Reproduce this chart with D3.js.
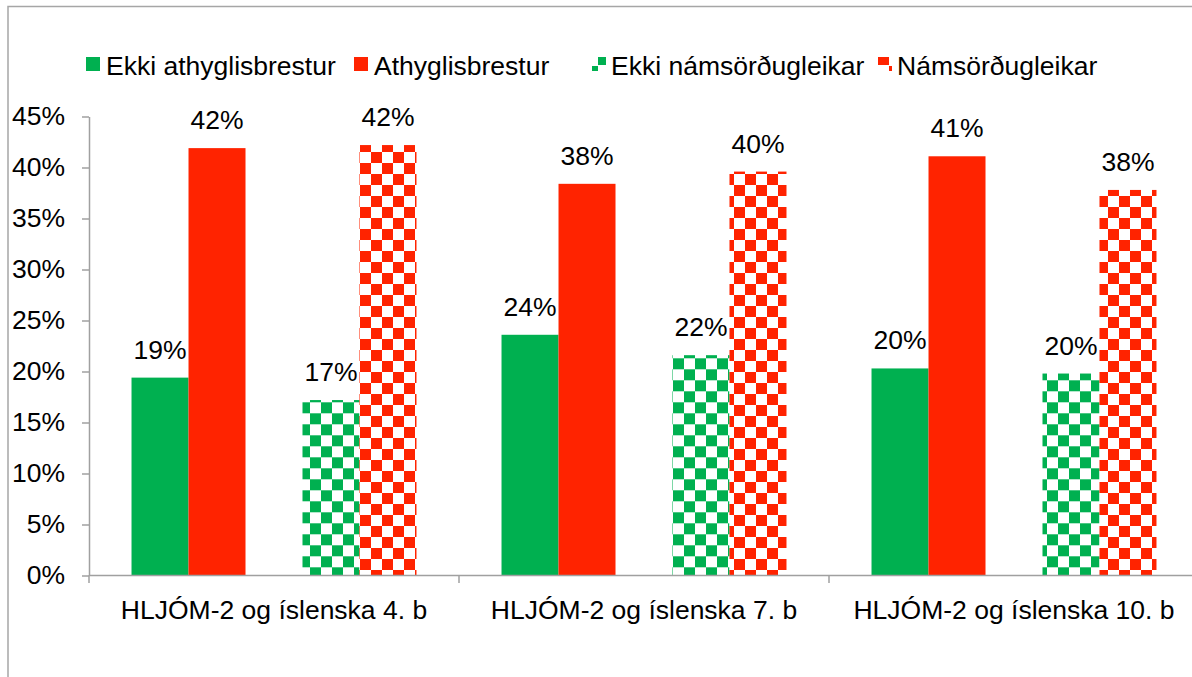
<!DOCTYPE html>
<html>
<head>
<meta charset="utf-8">
<script src="https://cdnjs.cloudflare.com/ajax/libs/d3/7.8.5/d3.min.js"></script>
<style>
  html, body { margin: 0; padding: 0; background: #fff; }
  svg { display: block; font-family: "Liberation Sans", Arial, sans-serif; }
</style>
</head>
<body>
<svg id="chart" width="1192" height="677"></svg>
<script>
// ---- data ----
const categories = ["HLJÓM-2 og íslenska 4. b", "HLJÓM-2 og íslenska 7. b", "HLJÓM-2 og íslenska 10. b"];
const seriesNames = ["Ekki athyglisbrestur", "Athyglisbrestur", "Ekki námsörðugleikar", "Námsörðugleikar"];
const ekkiAthyglisbrestur = [19.4, 23.6, 20.3];
const athyglisbrestur = [41.9, 38.4, 41.1];
const ekkiNamsordugleikar = [17.2, 21.6, 19.8];
const namsordugleikar = [42.2, 39.6, 37.8];
const yTicks = [0, 5, 10, 15, 20, 25, 30, 35, 40, 45];

// ---- layout / style ----
const GREEN = "#00B050", RED = "#FF2300", AXIS = "#A0A0A0";
const FS = "26.5px";
const svg = d3.select("#chart");
const x0 = 89, x1 = 89 + 3 * 370, yTop = 116.5, yBot = 575.5;

const series = [
  { name: seriesNames[0], values: ekkiAthyglisbrestur, slot: 0, fill: GREEN },
  { name: seriesNames[1], values: athyglisbrestur, slot: 1, fill: RED },
  { name: seriesNames[2], values: ekkiNamsordugleikar, slot: 3, fill: "url(#chkGreen)" },
  { name: seriesNames[3], values: namsordugleikar, slot: 4, fill: "url(#chkRed)" }
];

// patterns
const defs = svg.append("defs");
function checker(id, color, ox, oy, size) {
  const p = defs.append("pattern").attr("id", id).attr("patternUnits", "userSpaceOnUse")
    .attr("x", ox).attr("y", oy).attr("width", size * 2).attr("height", size * 2);
  p.append("rect").attr("width", size * 2).attr("height", size * 2).attr("fill", "#fff");
  p.append("rect").attr("x", size).attr("y", 0).attr("width", size).attr("height", size).attr("fill", color);
  p.append("rect").attr("x", 0).attr("y", size).attr("width", size).attr("height", size).attr("fill", color);
}
checker("chkGreen", GREEN, 310, 402.3, 11);
checker("chkRed", RED, 371, 383, 11);

// frame
svg.append("rect").attr("x", 8).attr("y", 6.5).attr("width", 1300).attr("height", 800)
  .attr("fill", "none").attr("stroke", "#A6A6A6").attr("stroke-width", 1.5);

// scales
const xCat = d3.scaleBand().domain(categories).range([x0, x1]).paddingInner(0).paddingOuter(0);
const xSlot = d3.scaleBand().domain([0, 1, 2, 3, 4]).range([0, xCat.bandwidth()]).paddingInner(0).paddingOuter(0.746);
const y = d3.scaleLinear().domain([0, 45]).range([yBot, yTop]);

// y axis
const yAxis = svg.append("g").attr("transform", `translate(${x0},0)`)
  .call(d3.axisLeft(y).tickValues(yTicks).tickFormat(d => d + "%").tickSize(7).tickPadding(17).tickSizeOuter(0));
yAxis.select(".domain").attr("stroke", AXIS).attr("stroke-width", 1.5);
yAxis.selectAll(".tick line").attr("stroke", AXIS).attr("stroke-width", 1.5);
yAxis.selectAll(".tick text").attr("fill", "#000").style("font-size", FS)
  .style("font-family", "'Liberation Sans', Arial, sans-serif");

// bars
const groups = svg.append("g").selectAll("g").data(series).join("g");
groups.selectAll("rect").data(s => s.values.map((v, i) => ({ v, cat: categories[i], s })))
  .join("rect")
  .attr("x", d => xCat(d.cat) + xSlot(d.s.slot))
  .attr("width", xSlot.bandwidth())
  .attr("y", d => y(d.v))
  .attr("height", d => y(0) - y(d.v))
  .attr("fill", d => d.s.fill);

// data labels
groups.selectAll("text").data(s => s.values.map((v, i) => ({ v, cat: categories[i], s })))
  .join("text")
  .attr("x", d => xCat(d.cat) + xSlot(d.s.slot) + xSlot.bandwidth() / 2)
  .attr("y", d => y(d.v) - 19)
  .attr("text-anchor", "middle")
  .style("font-size", FS)
  .attr("fill", "#000")
  .text(d => Math.round(d.v) + "%");

// x axis
const xAxis = svg.append("g");
xAxis.append("line").attr("x1", x0).attr("x2", 1192).attr("y1", y(0)).attr("y2", y(0))
  .attr("stroke", AXIS).attr("stroke-width", 1.5);
const bounds = categories.map(c => xCat(c)).concat([x1]);
xAxis.selectAll("line.tk").data(bounds).join("line").attr("class", "tk")
  .attr("x1", d => d).attr("x2", d => d).attr("y1", y(0)).attr("y2", y(0) + 7.5)
  .attr("stroke", AXIS).attr("stroke-width", 1.5);
xAxis.selectAll("text").data(categories).join("text")
  .attr("x", d => xCat(d) + xCat.bandwidth() / 2)
  .attr("y", 619)
  .attr("text-anchor", "middle")
  .style("font-size", FS)
  .attr("fill", "#000")
  .text(d => d);

// legend
const legendX = [86, 354, 592, 878];
const legendTextX = [106, 374, 611, 897];
const leg = svg.append("g");
series.forEach((s, i) => {
  const lx = legendX[i], ly = 57, sz = 14;
  if (i < 2) {
    leg.append("rect").attr("x", lx).attr("y", ly).attr("width", sz).attr("height", sz).attr("fill", s.fill);
  } else {
    const c = i === 2 ? GREEN : RED;
    if (i === 2) {
      leg.append("rect").attr("x", lx + 6).attr("y", ly).attr("width", 8).attr("height", 8).attr("fill", c);
      leg.append("rect").attr("x", lx).attr("y", ly + 9).attr("width", 6).attr("height", 5).attr("fill", c);
    } else {
      leg.append("rect").attr("x", lx).attr("y", ly).attr("width", 11).attr("height", 8).attr("fill", c);
      leg.append("rect").attr("x", lx + 11).attr("y", ly + 9).attr("width", 3).attr("height", 5).attr("fill", c);
    }
  }
  leg.append("text").attr("x", legendTextX[i]).attr("y", 74.5)
    .style("font-size", FS).attr("fill", "#000").text(s.name);
});
</script>
</body>
</html>
